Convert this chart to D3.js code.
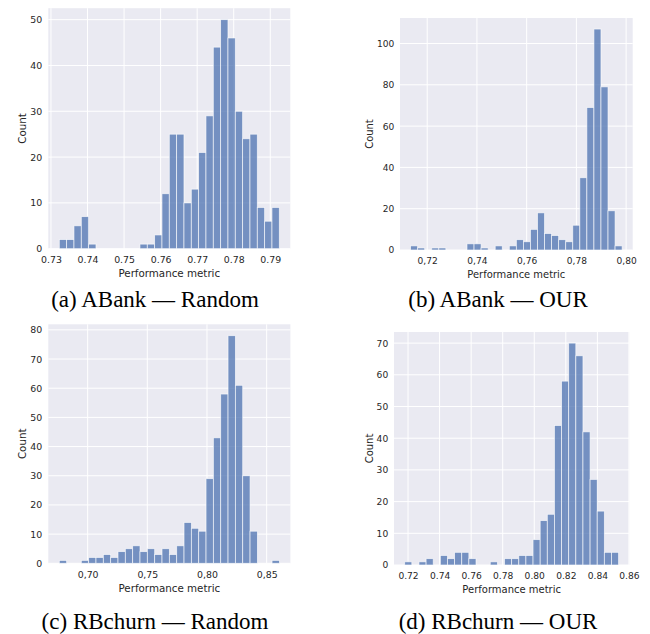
<!DOCTYPE html>
<html>
<head>
<meta charset="utf-8">
<script src="https://cdn.jsdelivr.net/npm/d3@7"></script>
<style>
  body { margin: 0; background: #fff; }
  svg { display: block; }
</style>
</head>
<body>
<div id="plot"></div>
<script>
// first and last bin edge of each histogram, then the 30 bin counts
const edgesA = [0.73228, 0.79247];
const countsA = [2, 2, 5, 7, 1, 0, 0, 0, 0, 0, 0, 1, 1, 3, 12, 25, 25, 10, 13, 21, 29, 44, 50, 46, 30, 24, 25, 9, 6, 9];
const edgesB = [0.71332, 0.79839];
const countsB = [2, 1, 0, 1, 1, 0, 0, 0, 3, 3, 1, 0, 2, 0, 2, 5, 4, 10, 18, 8, 7, 5, 4, 12, 35, 69, 107, 79, 19, 2];
const edgesC = [0.67625, 0.86066];
const countsC = [1, 0, 0, 1, 2, 2, 3, 2, 4, 5, 6, 4, 5, 3, 5, 3, 6, 14, 12, 11, 29, 43, 58, 78, 61, 30, 11, 0, 0, 1];
const edgesD = [0.71789, 0.85345];
const countsD = [1, 0, 1, 2, 0, 3, 2, 4, 4, 2, 0, 0, 1, 0, 2, 2, 3, 3, 8, 14, 16, 44, 58, 70, 66, 42, 27, 17, 4, 4];

const xTicksA = [0.73, 0.74, 0.75, 0.76, 0.77, 0.78, 0.79];
const xTicksB = [0.72, 0.74, 0.76, 0.78, 0.80];
const xTicksC = [0.70, 0.75, 0.80, 0.85];
const xTicksD = [0.72, 0.74, 0.76, 0.78, 0.80, 0.82, 0.84, 0.86];
const yTicksA = [0, 10, 20, 30, 40, 50];
const yTicksB = [0, 20, 40, 60, 80, 100];
const yTicksC = [0, 10, 20, 30, 40, 50, 60, 70, 80];
const yTicksD = [0, 10, 20, 30, 40, 50, 60, 70];

const decimalMarks = [".", ",", ",", "."];
const captions = ["(a) ABank — Random", "(b) ABank — OUR", "(c) RBchurn — Random", "(d) RBchurn — OUR"];
const xTitle = "Performance metric";
const yTitle = "Count";

// where each sub-figure sits on the page
const boxes = [
  { left: 48.3, right: 290.3, bottom: 248.7, height: 240.5, s: 1,     capX: 155, capY: 307 },
  { left: 400,  right: 632.7, bottom: 250,   height: 232,   s: 0.965, capX: 498, capY: 307 },
  { left: 48.3, right: 290.4, bottom: 563.3, height: 239,   s: 1,     capX: 155, capY: 629 },
  { left: 394,  right: 629.3, bottom: 565,   height: 233,   s: 0.97,  capX: 498, capY: 629 }
];

const panels = [
  { edges: edgesA, counts: countsA, xTicks: xTicksA, yTicks: yTicksA },
  { edges: edgesB, counts: countsB, xTicks: xTicksB, yTicks: yTicksB },
  { edges: edgesC, counts: countsC, xTicks: xTicksC, yTicks: yTicksC },
  { edges: edgesD, counts: countsD, xTicks: xTicksD, yTicks: yTicksD }
];

const W = 650, H = 634;
const textColor = "#262626";
const font = "'DejaVu Sans', sans-serif";

const svg = d3.select("#plot").append("svg")
  .attr("width", W)
  .attr("height", H);

panels.forEach((p, k) => {
  const b = boxes[k];
  const s = b.s;
  const n = p.counts.length;
  const binW = (p.edges[1] - p.edges[0]) / n;
  const bins = p.counts.map((c, i) => ({ x0: p.edges[0] + i * binW, x1: p.edges[0] + (i + 1) * binW, c }));

  // matplotlib-like 5% margin on x, 5% headroom on y
  const pad = (p.edges[1] - p.edges[0]) * 0.05;
  const x = d3.scaleLinear()
    .domain([p.edges[0] - pad, p.edges[1] + pad])
    .range([b.left, b.right]);
  const y = d3.scaleLinear()
    .domain([0, d3.max(p.counts) * 1.05])
    .range([b.bottom, b.bottom - b.height]);

  const g = svg.append("g");

  g.append("rect")
    .attr("x", b.left)
    .attr("y", b.bottom - b.height)
    .attr("width", b.right - b.left)
    .attr("height", b.height)
    .attr("fill", "#eaeaf2");

  g.selectAll(".vgrid")
    .data(p.xTicks)
    .enter().append("line")
    .attr("x1", d => x(d)).attr("x2", d => x(d))
    .attr("y1", y.range()[0]).attr("y2", y.range()[1])
    .attr("stroke", "#fff")
    .attr("stroke-width", 1);

  g.selectAll(".hgrid")
    .data(p.yTicks)
    .enter().append("line")
    .attr("x1", b.left).attr("x2", b.right)
    .attr("y1", d => y(d)).attr("y2", d => y(d))
    .attr("stroke", "#fff")
    .attr("stroke-width", 1);

  g.selectAll(".bar")
    .data(bins.filter(d => d.c > 0))
    .enter().append("rect")
    .attr("x", d => x(d.x0))
    .attr("y", d => y(d.c))
    .attr("width", d => x(d.x1) - x(d.x0))
    .attr("height", d => y(0) - y(d.c))
    .attr("fill", "#4c72b0")
    .attr("fill-opacity", 0.75)
    .attr("stroke", "#fff")
    .attr("stroke-opacity", 0.75)
    .attr("stroke-width", 0.8);

  const fmt = d => d3.format(".2f")(d).replace(".", decimalMarks[k]);
  const tickFont = 9.4 * s;
  const labelFont = 10.3 * s;

  const xAxis = g.append("g")
    .attr("transform", `translate(0, ${b.bottom})`)
    .call(d3.axisBottom(x).tickValues(p.xTicks).tickFormat(fmt)
      .tickSize(0).tickPadding(14.5 * s - 0.71 * tickFont));
  xAxis.select(".domain").remove();

  const yAxis = g.append("g")
    .attr("transform", `translate(${b.left}, 0)`)
    .call(d3.axisLeft(y).tickValues(p.yTicks).tickFormat(d3.format("d"))
      .tickSize(0).tickPadding(6 * s));
  yAxis.select(".domain").remove();

  g.selectAll(".tick text")
    .attr("fill", textColor)
    .attr("font-family", font)
    .attr("font-size", tickFont);

  let maxW = 0;
  yAxis.selectAll(".tick text").each(function () {
    maxW = Math.max(maxW, this.getComputedTextLength());
  });

  g.append("text")
    .attr("x", (b.left + b.right) / 2)
    .attr("y", b.bottom + 28.5 * s)
    .attr("text-anchor", "middle")
    .attr("fill", textColor)
    .attr("font-family", font)
    .attr("font-size", labelFont)
    .text(xTitle);

  const ly = b.bottom - b.height / 2;
  const lx = b.left - 6 * s - maxW - 4 * s;
  g.append("text")
    .attr("transform", `translate(${lx}, ${ly}) rotate(-90)`)
    .attr("text-anchor", "middle")
    .attr("fill", textColor)
    .attr("font-family", font)
    .attr("font-size", labelFont)
    .text(yTitle);

  svg.append("text")
    .attr("x", b.capX)
    .attr("y", b.capY)
    .attr("text-anchor", "middle")
    .attr("font-family", "'Liberation Serif', 'Times New Roman', serif")
    .attr("font-size", 23)
    .attr("fill", "#000")
    .text(captions[k]);
});
</script>
</body>
</html>
